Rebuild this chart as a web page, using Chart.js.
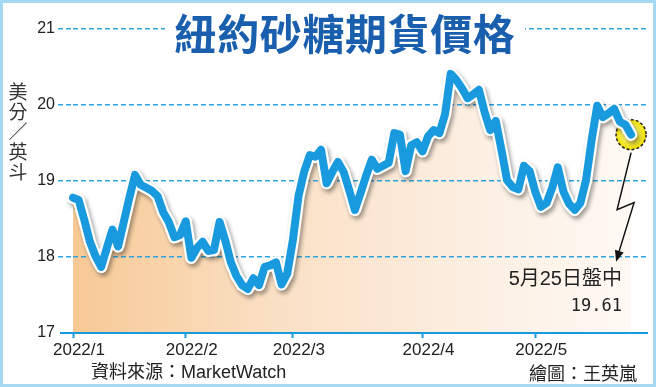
<!DOCTYPE html>
<html><head><meta charset="utf-8">
<script src="https://cdn.jsdelivr.net/npm/chart.js@4.4.1/dist/chart.umd.min.js"></script>
<style>
html,body{margin:0;padding:0;background:#fff;}
#wrap{position:relative;width:656px;height:387px;overflow:hidden;background:#fff;}
#c{position:absolute;left:0;top:0;}
.frame{position:absolute;left:0;top:0;width:656px;height:387px;box-sizing:border-box;border:3px solid #a3d9f1;pointer-events:none;}
.title{position:absolute;left:165px;top:10px;width:360px;height:44px;line-height:44px;background:#fff;text-align:center;font-weight:bold;font-size:42px;font-family:"Noto Sans CJK TC";color:#1a5fae;letter-spacing:0.6px;white-space:nowrap;}
.ytitle{position:absolute;left:8px;top:81px;width:20px;font-size:19px;line-height:20px;font-family:"Noto Sans CJK TC";color:#333;text-align:center;}
.src{position:absolute;left:91px;top:361px;font-size:18px;line-height:22px;font-family:"Liberation Sans","Noto Sans CJK TC";color:#222;white-space:nowrap;}
.credit{position:absolute;right:19px;top:361px;font-size:18px;line-height:22px;font-family:"Noto Sans CJK TC";color:#222;white-space:nowrap;}
.ann1{position:absolute;right:34px;top:266px;font-size:20px;line-height:24px;font-family:"Liberation Sans","Noto Sans CJK TC";color:#222;white-space:nowrap;}
.ann2{position:absolute;right:34px;top:294px;font-size:17px;line-height:22px;font-family:"DejaVu Sans Mono";color:#222;white-space:nowrap;}
</style></head>
<body>
<div id="wrap">
<canvas id="c" width="656" height="387"></canvas>
<div class="title">紐約砂糖期貨價格</div>
<div class="ytitle">美<br>分<br>／<br>英<br>斗</div>
<div class="src">資料來源：MarketWatch</div>
<div class="credit">繪圖：王英嵐</div>
<div class="ann1">5月25日盤中</div>
<div class="ann2">19.61</div>
<div class="frame"></div>
</div>
<script>
// Trading-day closing prices, 2022/1/3 – 2022/5/25 (US cents per pound)
const prices = [
18.78,18.75,18.49,18.20,18.01,17.87,18.12,18.36,18.14,18.46,
18.78,19.08,18.95,18.91,18.87,18.80,18.59,18.46,18.26,18.29,
18.47,17.99,18.12,18.20,18.08,18.09,18.46,18.22,17.93,17.75,
17.63,17.58,17.72,17.63,17.87,17.89,17.93,17.64,17.78,18.22,
18.80,19.12,19.34,19.32,19.41,18.97,19.12,19.25,19.12,18.88,
18.62,18.84,19.07,19.28,19.16,19.20,19.24,19.63,19.61,19.13,
19.47,19.51,19.39,19.59,19.67,19.63,19.88,20.41,20.33,20.22,
20.09,20.14,20.20,19.91,19.67,19.79,19.41,19.01,18.92,18.89,
19.20,19.13,18.86,18.66,18.71,18.91,19.18,18.86,18.70,18.62,
18.71,19.01,19.54,19.99,19.84,19.89,19.95,19.78,19.74,19.61
];
const monthLabels = ['2022/1','2022/2','2022/3','2022/4','2022/5'];
const monthStartIndex = [0,20,39,62,82];   // trading-day index of each month's first session
const trailingSlots = 3;                    // empty axis room after the last session
const yTicks = [17,18,19,20,21];

const labels = [];
for (let i = 0; i < prices.length + trailingSlots; i++) {
  const k = monthStartIndex.indexOf(i);
  labels.push(k >= 0 ? monthLabels[k] : '');
}

const BLUE = '#1a9ade';
const GRID = '#2fa3dc';

const decor = {
  id: 'decor',
  beforeDatasetsDraw(chart) {
    const ctx = chart.ctx;
    const meta = chart.getDatasetMeta(2);
    const p = meta.data[prices.length - 1];
    ctx.save();
    const g = ctx.createRadialGradient(p.x - 3, p.y - 3, 2, p.x, p.y, 15);
    g.addColorStop(0, '#fdf9a8');
    g.addColorStop(1, '#f1e100');
    ctx.beginPath();
    ctx.arc(p.x, p.y, 15, 0, Math.PI * 2);
    ctx.fillStyle = g;
    ctx.fill();
    ctx.setLineDash([3, 2]);
    ctx.lineWidth = 1.5;
    ctx.strokeStyle = '#222';
    ctx.stroke();
    ctx.restore();
  },
  beforeDatasetDraw(chart, args) {
    if (args.index === 1) {
      const ctx = chart.ctx;
      ctx.save();
      ctx.shadowColor = 'rgba(0,0,0,0.38)';
      ctx.shadowBlur = 4;
      ctx.shadowOffsetX = 2;
      ctx.shadowOffsetY = 3;
    }
  },
  afterDatasetDraw(chart, args) {
    if (args.index === 1) chart.ctx.restore();
  },
  afterDraw(chart) {
    const ctx = chart.ctx;
    const ys = chart.scales.y;
    const yb = ys.getPixelForValue(17);
    ctx.save();
    ctx.strokeStyle = BLUE;
    ctx.lineWidth = 2;
    ctx.beginPath();
    ctx.moveTo(chart.chartArea.left - 13, yb);
    ctx.lineTo(chart.chartArea.right, yb);
    ctx.stroke();
    // arrow from last point
    const p = chart.getDatasetMeta(2).data[prices.length - 1];
    const A = [p.x, p.y + 18], B = [p.x - 14, p.y + 75], C = [p.x + 3, p.y + 68], D = [p.x - 15, p.y + 127];
    ctx.strokeStyle = '#111';
    ctx.lineWidth = 1.5;
    ctx.setLineDash([]);
    ctx.beginPath();
    ctx.moveTo(A[0], A[1]); ctx.lineTo(B[0], B[1]); ctx.lineTo(C[0], C[1]); ctx.lineTo(D[0] + 2, D[1] - 7);
    ctx.stroke();
    const dx = D[0] - C[0], dy = D[1] - C[1], L = Math.hypot(dx, dy);
    const ux = dx / L, uy = dy / L;
    ctx.fillStyle = '#111';
    ctx.beginPath();
    ctx.moveTo(D[0], D[1]);
    ctx.lineTo(D[0] - ux * 11 - uy * 4.5, D[1] - uy * 11 + ux * 4.5);
    ctx.lineTo(D[0] - ux * 11 + uy * 4.5, D[1] - uy * 11 - ux * 4.5);
    ctx.closePath();
    ctx.fill();
    ctx.restore();
  }
};

new Chart(document.getElementById('c'), {
  type: 'line',
  data: {
    labels: labels,
    datasets: [
      {
        data: prices, order: 3, borderWidth: 0, borderColor: 'rgba(0,0,0,0)', pointRadius: 0,
        fill: 'start',
        backgroundColor: (c) => {
          const a = c.chart.chartArea;
          if (!a) return '#f8d8b0';
          const g = c.chart.ctx.createLinearGradient(a.left, 0, a.right, 0);
          g.addColorStop(0, '#f7c995');
          g.addColorStop(0.35, '#fae0c4');
          g.addColorStop(0.7, '#fcefe2');
          g.addColorStop(1, '#fffaf6');
          return g;
        }
      },
      { data: prices, order: 2, borderColor: '#ffffff', borderWidth: 12.5, pointRadius: 0, fill: false,
        borderJoinStyle: 'round', borderCapStyle: 'round', tension: 0 },
      { data: prices, order: 1, borderColor: BLUE, borderWidth: 8, pointRadius: 0, fill: false,
        borderJoinStyle: 'round', borderCapStyle: 'round', tension: 0 }
    ]
  },
  plugins: [decor],
  options: {
    responsive: false,
    animation: false,
    events: [],
    layout: { padding: { left: 0, right: 8, top: 29, bottom: 0 } },
    plugins: { legend: { display: false }, tooltip: { enabled: false }, filler: { drawTime: 'beforeDraw' } },
    scales: {
      x: {
        type: 'category', offset: false,
        ticks: { autoSkip: false, maxRotation: 0, minRotation: 0, padding: 2, labelOffset: 6, color: '#222',
          font: { family: 'Liberation Sans', size: 17 } },
        grid: { drawOnChartArea: false, drawTicks: true, tickLength: 5, tickWidth: 2,
          tickColor: (c) => (labels[c.index] ? BLUE : 'rgba(0,0,0,0)') },
        border: { display: false },
        afterFit(s) { s.height = 54; }
      },
      y: {
        min: 17, max: 21,
        afterBuildTicks(s) { s.ticks = yTicks.map(v => ({ value: v })); },
        ticks: { padding: 3, color: '#222', font: { family: 'Liberation Sans', size: 16 } },
        grid: {
          color: (c) => (c.tick && c.tick.value === 17 ? 'rgba(0,0,0,0)' : GRID),
          tickColor: (c) => (c.tick && c.tick.value === 17 ? 'rgba(0,0,0,0)' : GRID),
          lineWidth: 1.5, tickWidth: 1.5, tickBorderDash: [5, 3], tickLength: 15
        },
        border: { display: false, dash: [5, 3] },
        afterFit(s) { s.width = 73; }
      }
    }
  }
});
</script>
</body></html>
